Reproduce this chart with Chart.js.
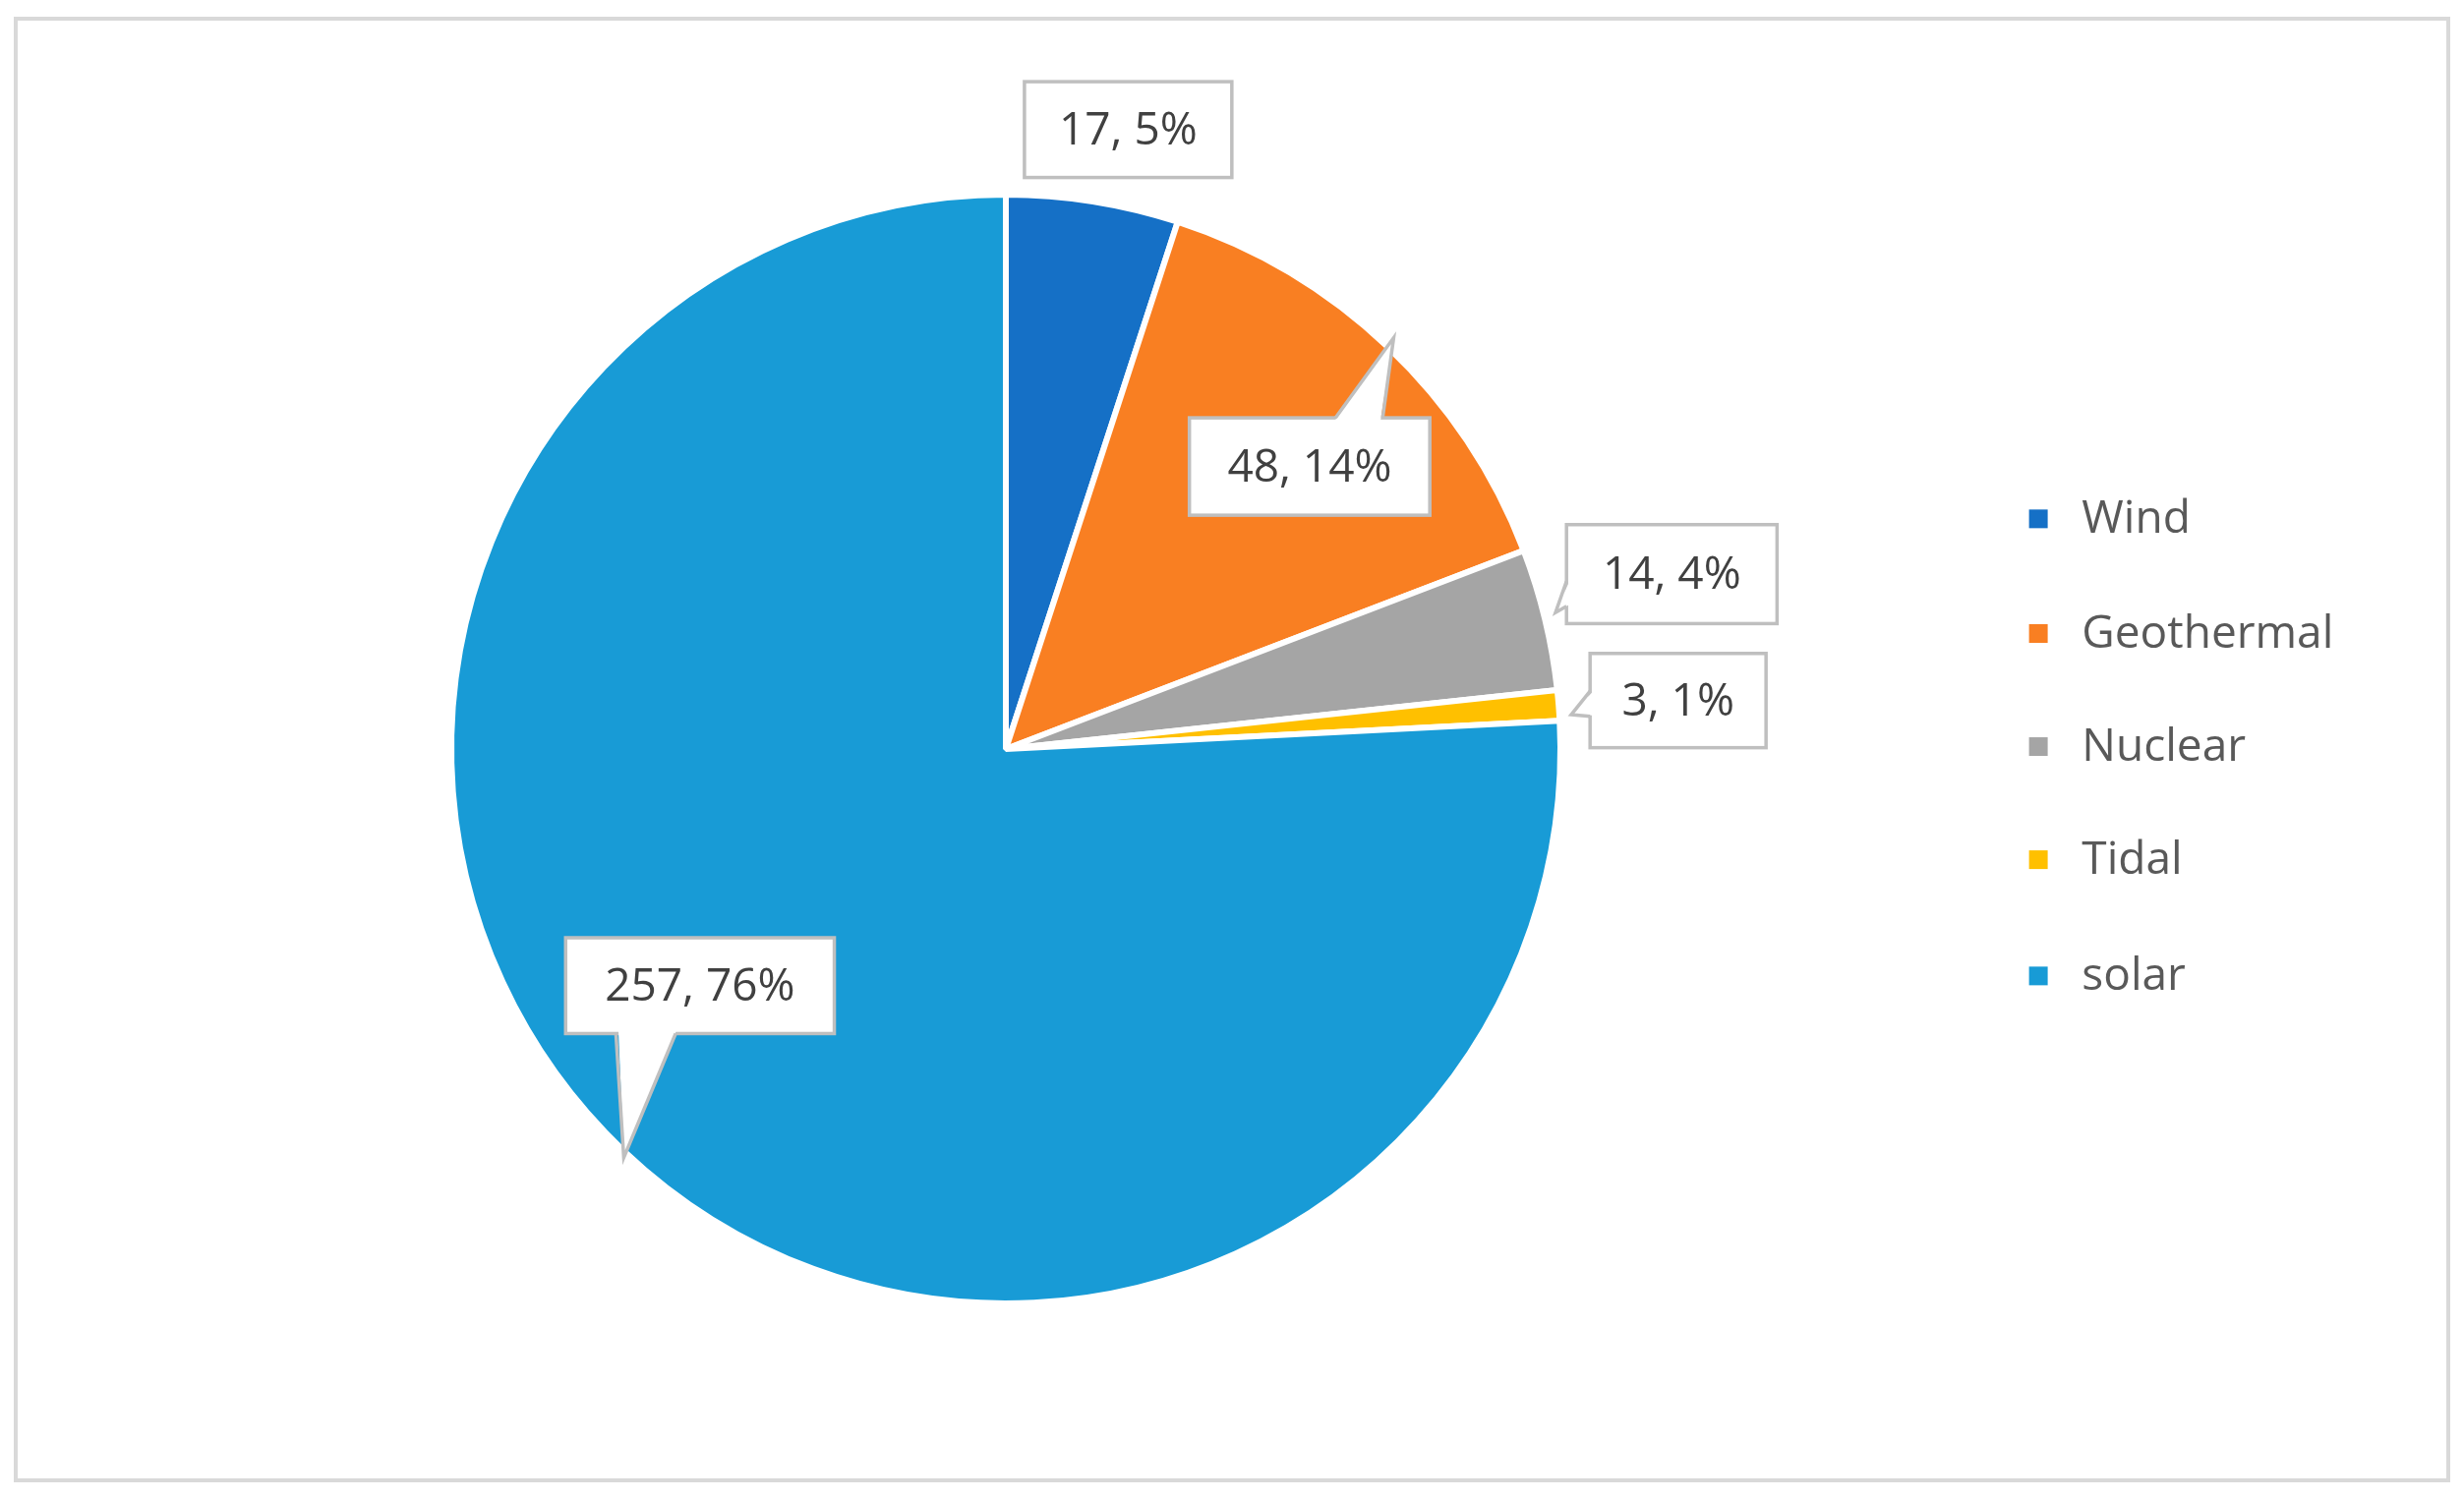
<!DOCTYPE html>
<html><head><meta charset="utf-8">
<script src="https://cdn.jsdelivr.net/npm/chart.js@4"></script>
<style>html,body{margin:0;padding:0;background:#fff}#wrap{width:2506px;height:1526px;position:relative}</style>
</head><body><div id="wrap"><canvas id="c" width="2506" height="1526"></canvas></div>
<script>
const categories = ["Wind","Geothermal","Nuclear","Tidal","solar"];
const values = [17,48,14,3,257];
const percents = ["5%","14%","4%","1%","76%"];
const colors = ["#1570C6","#F97F22","#A5A5A5","#FFC000","#189BD6"];

// callout layout: box [x0,y0,x1,y1], tip [x,y], base [x,y,x,y] (pixels)
const S = 1.598;
const callouts = [
  {box:[652,52,784,113], tip:null},
  {box:[757,266,910,328], tip:[887,215], base:[850,266,880,266]},
  {box:[997,334,1131,397], tip:[990,390], base:[997,370,997,386]},
  {box:[1012,416,1124,476], tip:[1000,455], base:[1012,440,1012,456]},
  {box:[360,597,531,658], tip:[397,737], base:[392,658,430,658]}
];

const FONT = '46px "Open Sans", "Noto Sans", sans-serif';
const overlay = {
  id:'overlay',
  afterDraw(chart){
    const ctx = chart.ctx;
    ctx.save();
    // frame
    ctx.strokeStyle='#D9D9D9'; ctx.lineWidth=4;
    ctx.strokeRect(16,19,2474,1487);
    // callouts
    ctx.font = FONT; ctx.textAlign='center'; ctx.textBaseline='middle';
    callouts.forEach((c,i)=>{
      const [x0,y0,x1,y1]=c.box.map(v=>v*S);
      ctx.lineWidth=3.5; ctx.strokeStyle='#BFBFBF'; ctx.fillStyle='#fff';
      ctx.fillRect(x0,y0,x1-x0,y1-y0); ctx.strokeRect(x0,y0,x1-x0,y1-y0);
      if(c.tip){
        const [bx0,by0,bx1,by1]=c.base.map(v=>v*S);
        const [tx,ty]=c.tip.map(v=>v*S);
        const cx=(x0+x1)/2, cy=(y0+y1)/2;
        const ix0=bx0+(cx-bx0)*0.03, iy0=by0+(cy-by0)*0.06;
        const ix1=bx1+(cx-bx1)*0.03, iy1=by1+(cy-by1)*0.06;
        ctx.beginPath(); ctx.moveTo(ix0,iy0); ctx.lineTo(tx,ty); ctx.lineTo(ix1,iy1); ctx.closePath();
        ctx.fill();
        ctx.beginPath(); ctx.moveTo(bx0,by0); ctx.lineTo(tx,ty); ctx.lineTo(bx1,by1); ctx.stroke();
      }
      ctx.fillStyle='#404040';
      ctx.fillText(values[i]+', '+percents[i],(x0+x1)/2,(y0+y1)/2+2);
    });
    // legend
    const ly=[330,403,475,547,621];
    ctx.textAlign='left';
    categories.forEach((n,i)=>{
      const y=ly[i]*S;
      ctx.fillStyle=colors[i];
      ctx.fillRect(1297*S-9,y-9,19,19);
      ctx.fillStyle='#595959';
      ctx.fillText(n,1325*S,y+2);
    });
    ctx.restore();
  }
};

new Chart(document.getElementById('c'),{
  type:'pie',
  data:{labels:categories,datasets:[{data:values,backgroundColor:colors,borderColor:'#fff',borderWidth:6}]},
  options:{
    responsive:false,animation:false,
    layout:{padding:{left:456,right:916,top:195,bottom:197}},
    plugins:{legend:{display:false},tooltip:{enabled:false}}
  },
  plugins:[overlay]
});
</script></body></html>
